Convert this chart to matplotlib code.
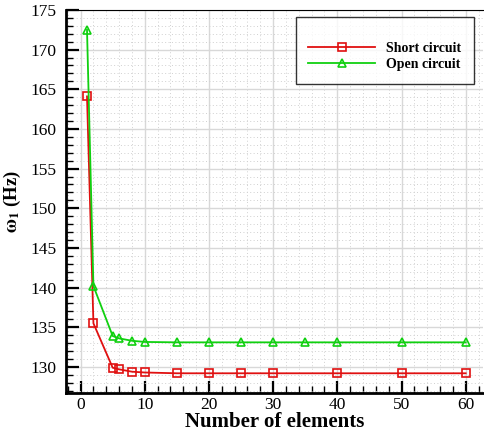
import matplotlib.pyplot as plt
from matplotlib.ticker import MultipleLocator

plt.rcParams['font.family'] = ['Liberation Serif', 'DejaVu Serif']
plt.rcParams['mathtext.fontset'] = 'stix'

# first natural frequency vs. mesh size
n_short = [1, 2, 5, 6, 8, 10, 15, 20, 25, 30, 40, 50, 60]
w_short = [164.1, 135.5, 129.9, 129.7, 129.4, 129.3, 129.2, 129.2, 129.2, 129.2, 129.2, 129.2, 129.2]

n_open = [1, 2, 5, 6, 8, 10, 15, 20, 25, 30, 35, 40, 50, 60]
w_open = [172.5, 140.2, 133.9, 133.6, 133.3, 133.15, 133.1, 133.1, 133.1, 133.1, 133.1, 133.1, 133.1, 133.1]

fig = plt.figure(figsize=(4.84, 4.32), dpi=100)
ax = fig.add_axes([0.136, 0.090, 0.862, 0.887])

ax.plot(n_short, w_short, color='#e01010', lw=1.3, marker='s', ms=6,
        mfc='none', mew=1.2, label='Short circuit', zorder=3)
ax.plot(n_open, w_open, color='#10d010', lw=1.3, marker='^', ms=6,
        mfc='none', mew=1.2, label='Open circuit', zorder=3)

ax.set_xlim(-2.3, 62.7)
ax.set_ylim(126.7, 175)
ax.xaxis.set_major_locator(MultipleLocator(10))
ax.xaxis.set_minor_locator(MultipleLocator(2))
ax.yaxis.set_major_locator(MultipleLocator(5))
ax.yaxis.set_minor_locator(MultipleLocator(1))

ax.grid(which='major', color='#d8d8d8', lw=1.0, ls='-', zorder=0)
ax.grid(which='minor', color='#d0d0d0', lw=0.7, ls=(0, (1, 2.5)), zorder=0)
ax.set_axisbelow(True)

ax.tick_params(which='major', direction='in', length=9, width=1.6, labelsize=12.5,
               top=False, right=False)
ax.tick_params(axis='x', which='major', pad=3)
ax.tick_params(axis='y', which='major', pad=7)
ax.tick_params(which='minor', direction='in', length=5, width=1.0, top=False, right=False)

ax.spines['left'].set_linewidth(2.0)
ax.spines['bottom'].set_linewidth(2.0)
ax.spines['top'].set_linewidth(0.8)
ax.spines['right'].set_visible(False)

ax.set_xlabel('Number of elements', fontsize=15, fontweight='bold', labelpad=-1)
ax.set_ylabel(r'$\mathbf{\omega_1}$ (Hz)', fontsize=13.5, fontweight='bold', labelpad=5)

leg = ax.legend(loc='upper right', bbox_to_anchor=(0.978, 0.982),
                frameon=True, fancybox=False, edgecolor='black', handlelength=4.8,
                borderpad=0.9, labelspacing=0.25, handletextpad=0.8, borderaxespad=0,
                title=' ', title_fontsize=8,
                prop={'weight': 'bold', 'size': 10})
leg.get_frame().set_linewidth(1.0)

fig.savefig('out.png', dpi=100)
